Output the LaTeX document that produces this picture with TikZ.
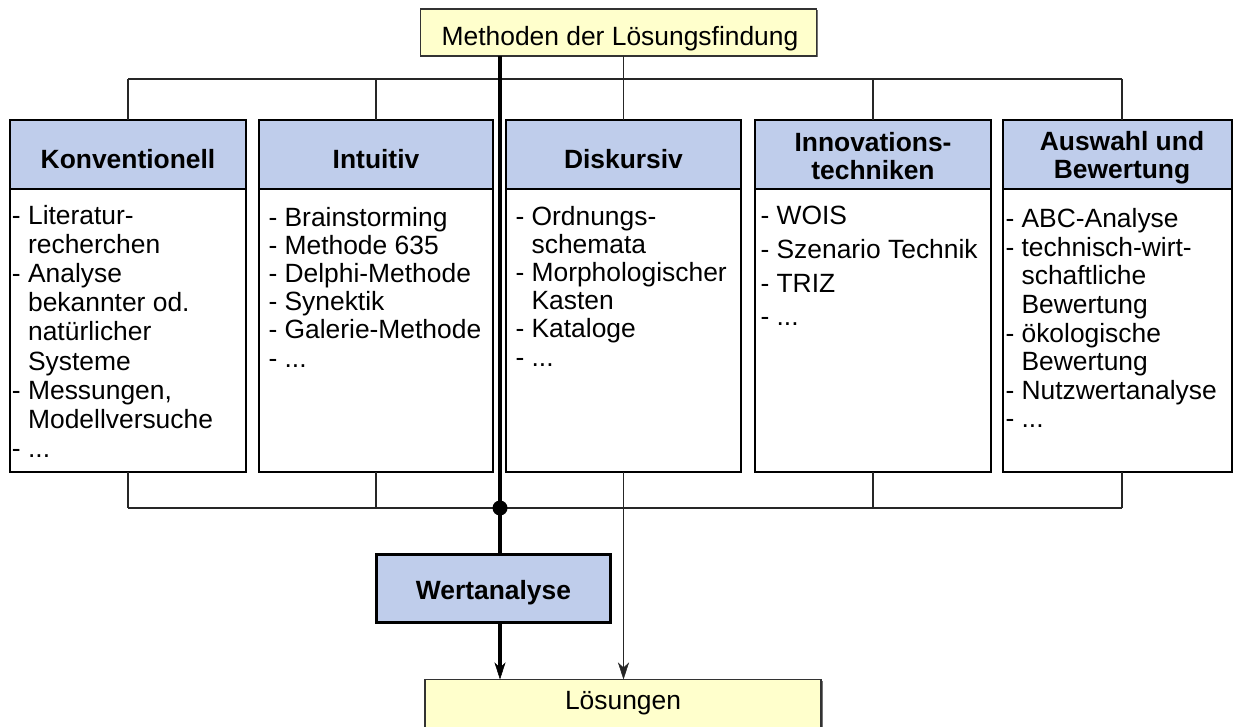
\documentclass[tikz,border=0pt]{standalone}
\usepackage{fontspec}
\setmainfont{Liberation Sans}
\usetikzlibrary{arrows.meta,shadows}
\definecolor{notefill}{RGB}{255,255,204}
\definecolor{headfill}{RGB}{191,205,235}
\newcommand{\headfont}{\fontsize{26.4}{28}\selectfont\bfseries}
\newcommand{\ind}{\hphantom{-\ }}
\newcommand{\fst}{\rule{0pt}{19pt}}
\begin{document}
\begin{tikzpicture}[x=1pt,y=-1pt,
  every node/.style={inner sep=0pt,outer sep=0pt},
  notebox/.style={draw=black!80,line width=1.2pt,fill=notefill,
    minimum width=396pt,minimum height=47pt,
    drop shadow={shadow xshift=1.5pt,shadow yshift=-1.5pt,fill=black!55,opacity=1}},
  colbox/.style={draw=black,line width=2.6pt,fill=white,minimum height=352pt},
  headbox/.style={draw=black,line width=2.6pt,fill=headfill,minimum height=69pt},
  heading/.style={font=\headfont,align=center},
  listing/.style={font=\fontsize{26.4}{#1}\selectfont,align=left,anchor=north west},
  bodytext/.style={font=\fontsize{26.4}{28}\selectfont},
  wire/.style={draw=black!85,line width=1.2pt},
  spine/.style={draw=black,line width=4pt},
  tip/.style={-{Stealth[length=17pt,width=11pt,inset=5pt,line width=0.5pt]}}
]
\useasboundingbox (0,0) rectangle (1235,727);

% source and result boxes
\node[notebox] (m) at (618.5,32.5) {};
\node[bodytext,anchor=base] (mt) at (620,45.5) {Methoden der Lösungsfindung};
\node[notebox,minimum height=49pt] (l) at (623,704) {};
\node[bodytext,anchor=base] (lt) at (623,709) {Lösungen};

% method columns
\node[colbox,minimum width=236pt] (k) at (128,296) {};
\node[headbox,minimum width=236pt,anchor=north] (kh) at (k.north) {};
\node[colbox,minimum width=234pt] (i) at (376,296) {};
\node[headbox,minimum width=234pt,anchor=north] (ih) at (i.north) {};
\node[colbox,minimum width=235pt] (d) at (623.5,296) {};
\node[headbox,minimum width=235pt,anchor=north] (dh) at (d.north) {};
\node[colbox,minimum width=236pt] (n) at (873,296) {};
\node[headbox,minimum width=236pt,anchor=north] (nh) at (n.north) {};
\node[colbox,minimum width=229pt] (a) at (1117.5,296) {};
\node[headbox,minimum width=229pt,anchor=north] (ah) at (a.north) {};

% column headings
\node[heading,anchor=base] (kl) at (128,168.5) {Konventionell};
\node[heading,anchor=base] (il) at (376,168.5) {Intuitiv};
\node[heading,anchor=base] (dl) at (623.5,168.5) {Diskursiv};
\node[heading,anchor=north] (nl) at (873,132) {\fst Innovations-\\techniken};
\node[heading,anchor=north] (al) at (1122,131) {\fst Auswahl und\\Bewertung};

% column contents
\node[listing=29.2] (kt) at (12,205) {\fst- Literatur-\\\ind recherchen\\- Analyse\\\ind bekannter od.\\\ind natürlicher\\\ind Systeme\\- Messungen,\\\ind Modellversuche\\- ...};
\node[listing=28.2] (it) at (268.5,207) {\fst- Brainstorming\\- Methode 635\\- Delphi-Methode\\- Synektik\\- Galerie-Methode\\- ...};
\node[listing=28.2] (dt) at (515.5,206) {\fst- Ordnungs-\\\ind schemata\\- Morphologischer\\\ind Kasten\\- Kataloge\\- ...};
\node[listing=33.6] (nt) at (760.5,206) {\fst- WOIS\\- Szenario Technik\\- TRIZ\\- ...};
\node[listing=28.6] (at) at (1005.5,208.5) {\fst- ABC-Analyse\\- technisch-wirt-\\\ind schaftliche\\\ind Bewertung\\- ökologische\\\ind Bewertung\\- Nutzwertanalyse\\- ...};

% value analysis
\node[headbox,minimum width=234pt,minimum height=68pt] (w) at (493.5,588.5) {};
\node[heading,anchor=base] (wl) at (493.5,599) {Wertanalyse};

% bus lines
\coordinate (busT) at (0,79);
\coordinate (busB) at (0,508);
\coordinate (sp) at (500,0);
\coordinate (aT) at (1122,120);
\coordinate (aB) at (1122,472);

\draw[wire] (k.north |- busT) -- (aT |- busT);
\foreach \c in {k,i,n} \draw[wire] (\c.north |- busT) -- (\c.north);
\draw[wire] (aT |- busT) -- (aT);
\draw[wire] (m.south -| d.north) -- (d.north);

\draw[wire] (k.south |- busB) -- (aB |- busB);
\foreach \c in {k,i,n} \draw[wire] (\c.south) -- (\c.south |- busB);
\draw[wire] (aB) -- (aB |- busB);
\draw[wire,tip] (d.south) -- (d.south |- l.north);

% main path through value analysis
\draw[spine] (m.south -| sp) -- (w.north -| sp);
\fill (sp |- busB) circle[radius=7.5pt];
\draw[spine,tip] (w.south -| sp) -- (l.north -| sp);
\end{tikzpicture}
\end{document}
